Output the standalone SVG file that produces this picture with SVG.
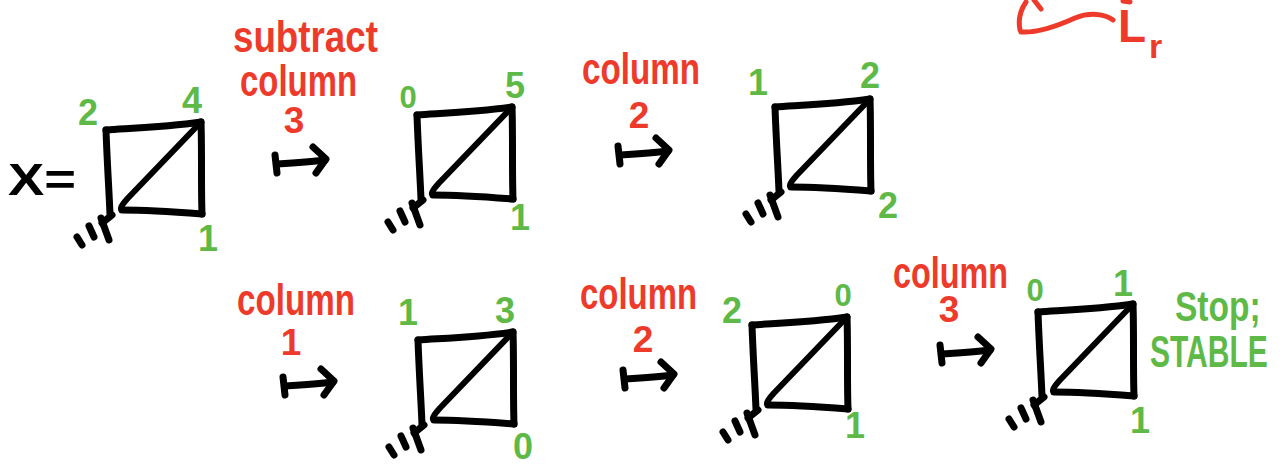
<svg xmlns="http://www.w3.org/2000/svg" xmlns:xlink="http://www.w3.org/1999/xlink" width="1286" height="466" viewBox="0 0 1286 466">
<style>
.ink{fill:none;stroke:#000;stroke-width:7;stroke-linecap:round;stroke-linejoin:round}
.red{fill:none;stroke:#ee3a2a;stroke-width:5;stroke-linecap:round;stroke-linejoin:round}
.g{font-family:"Liberation Sans",Arial,sans-serif;font-weight:bold;font-size:36px;fill:#5eb947;text-anchor:middle}
.s{font-size:31px}
.r{font-family:"Liberation Sans",Arial,sans-serif;font-weight:bold;font-size:44px;fill:#ee3a2a}
.rn{font-family:"Liberation Sans",Arial,sans-serif;font-weight:bold;font-size:37px;fill:#ee3a2a;text-anchor:middle}
.k{font-family:"Liberation Sans",Arial,sans-serif;font-weight:bold;font-size:44px;fill:#000}
</style>
<defs>
<g id="sq">
<path class="ink" d="M0,0 C30,-2 60,-3 95,-8"/>
<path class="ink" d="M95,-8 C96,20 95,55 96,84"/>
<path class="ink" d="M16,80 C40,80 70,82 96,84"/>
<path class="ink" d="M0,0 C1,30 3,60 4,84"/>
<path class="ink" d="M95,-8 L22,68 Q12,79 16,80" style="stroke-width:6"/>
<path class="ink" d="M6,85 L-4,93"/>
<path class="ink" d="M-5,88 L3,110"/>
<path class="ink" d="M-17,96 L-12,107"/>
<path class="ink" d="M-29,107 L-24,115"/>
</g>
<g id="mapsto">
<path class="ink" d="M0,0 L2,18"/>
<path class="ink" d="M2,9 C20,8 36,7 50,5"/>
<path class="ink" d="M38,-8 L51,4 L41,18"/>
</g>
</defs>

<text class="k" x="8" y="195" textLength="68" lengthAdjust="spacingAndGlyphs">X=</text>

<g id="node1">
<use xlink:href="#sq" href="#sq" transform="translate(106,130)"/>
<text class="g" x="88" y="125">2</text>
<text class="g" x="192" y="113">4</text>
<text class="g" x="208" y="251">1</text>
</g>
<g id="node2">
<use xlink:href="#sq" href="#sq" transform="translate(417,115)"/>
<text class="g s" x="408" y="108">0</text>
<text class="g" x="515" y="98">5</text>
<text class="g" x="520" y="230">1</text>
</g>
<g id="node3">
<use xlink:href="#sq" href="#sq" transform="translate(775,107)"/>
<text class="g" x="758" y="95">1</text>
<text class="g" x="870" y="88">2</text>
<text class="g" x="888" y="218">2</text>
</g>
<g id="node4">
<use xlink:href="#sq" href="#sq" transform="translate(418,340)"/>
<text class="g" x="408" y="325">1</text>
<text class="g" x="505" y="323">3</text>
<text class="g" x="523" y="459">0</text>
</g>
<g id="node5">
<use xlink:href="#sq" href="#sq" transform="translate(752,325)"/>
<text class="g" x="732" y="323">2</text>
<text class="g s" x="843" y="306">0</text>
<text class="g" x="855" y="438">1</text>
</g>
<g id="node6">
<use xlink:href="#sq" href="#sq" transform="translate(1038,312)"/>
<text class="g s" x="1035" y="301">0</text>
<text class="g" x="1123" y="296">1</text>
<text class="g" x="1140" y="433">1</text>
<text class="g" transform="translate(1175,321) scale(0.78,1)" style="text-anchor:start;font-size:43px">Stop;</text>
<text class="g" transform="translate(1150,367) scale(0.667,1)" style="text-anchor:start;font-size:45px">STABLE</text>
</g>

<g id="connectors">
<use xlink:href="#mapsto" href="#mapsto" transform="translate(275,155)"/>
<use xlink:href="#mapsto" href="#mapsto" transform="translate(618,146)"/>
<use xlink:href="#mapsto" href="#mapsto" transform="translate(283,377)"/>
<use xlink:href="#mapsto" href="#mapsto" transform="translate(623,370)"/>
<use xlink:href="#mapsto" href="#mapsto" transform="translate(940,345)"/>
</g>

<g id="labels">
<text class="r" transform="translate(233,52) scale(0.835,1)">subtract</text>
<text class="r" transform="translate(240,96) scale(0.748,1)">column</text>
<text class="rn" x="294" y="133">3</text>
<text class="r" transform="translate(582,84) scale(0.754,1)">column</text>
<text class="rn" x="639" y="128">2</text>
<text class="r" transform="translate(237,315) scale(0.754,1)">column</text>
<text class="rn" x="291" y="355">1</text>
<text class="r" transform="translate(580,309) scale(0.748,1)">column</text>
<text class="rn" x="643" y="352">2</text>
<text class="r" transform="translate(893,288) scale(0.735,1)">column</text>
<text class="rn" x="949" y="322">3</text>
</g>

<g id="corner">
<path class="red" d="M1020,30 Q1017,15 1026,2"/>
<path class="red" d="M1034,0 L1041,9"/>
<path class="red" d="M1021,32 C1035,33 1055,27 1075,18 C1090,12 1105,14 1113,20"/>
<path class="red" d="M1123,1 L1130,2"/>
<text class="r" x="1118" y="42" style="font-size:46px">L</text>
<text class="r" x="1149" y="58" style="font-size:34px">r</text>
</g>
</svg>
